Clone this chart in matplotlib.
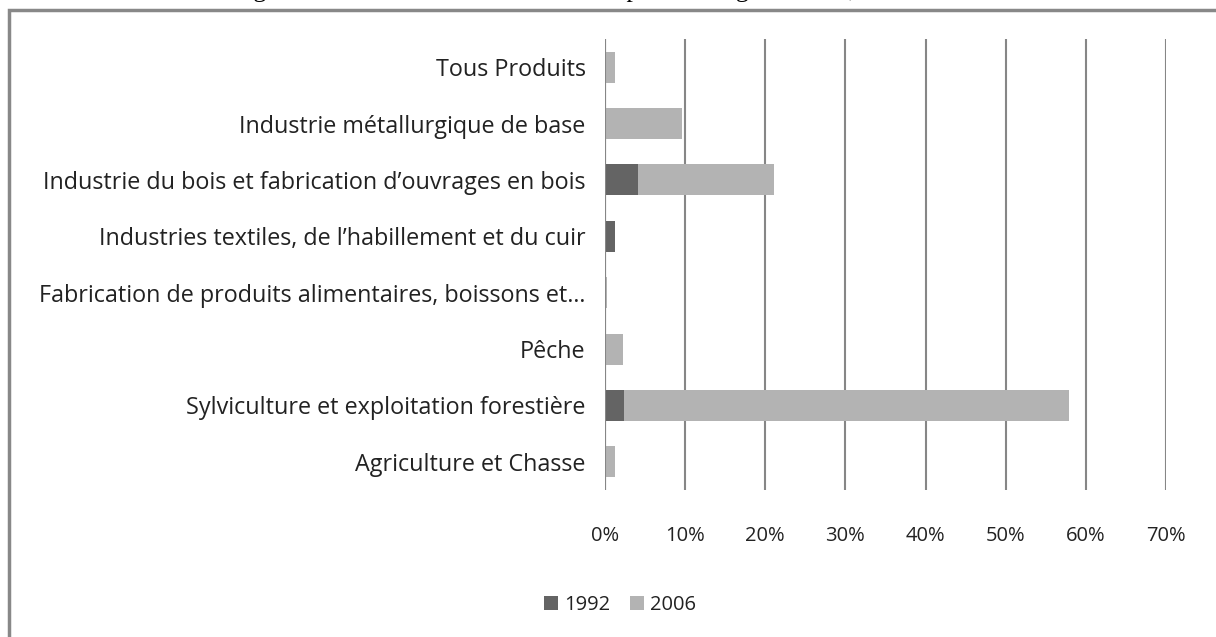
import matplotlib
matplotlib.use("Agg")
import matplotlib.pyplot as plt
from matplotlib.patches import Rectangle

# categories from bottom to top (barh draws the first one at the bottom)
categories = [
    "Agriculture et Chasse",
    "Sylviculture et exploitation forestière",
    "Pêche",
    "Fabrication de produits alimentaires, boissons et…",
    "Industries textiles, de l’habillement et du cuir",
    "Industrie du bois et fabrication d’ouvrages en bois",
    "Industrie métallurgique de base",
    "Tous Produits",
]
share_1992 = [0.0, 2.4, 0.0, 0.0, 1.2, 4.1, 0.0, 0.0]
share_2006 = [1.3, 55.5, 2.3, 0.2, 0.0, 17.0, 9.6, 1.2]
xticks = [0, 10, 20, 30, 40, 50, 60, 70]
title = "Figure 4 : Part de la Chine dans les importations gabonaises, 1992 versus 2006"

W, H = 1216, 637
fig = plt.figure(figsize=(W / 100, H / 100), dpi=100)
fig.patch.set_facecolor("white")

# plot area in pixels: x 605..1166, y 39..490
ax = fig.add_axes([605 / W, 1 - 490 / H, (1166 - 605) / W, (490 - 39) / H])

ypos = range(len(categories))
ax.barh(ypos, share_1992, height=0.55, color="#646464", label="1992", zorder=3)
ax.barh(ypos, share_2006, height=0.55, left=share_1992, color="#b3b3b3",
        label="2006", zorder=3)

ax.set_xlim(0, 70)
ax.set_ylim(-0.5, len(categories) - 0.5)
ax.set_xticks(xticks)
ax.set_xticklabels([f"{t}%" for t in xticks])
ax.set_yticks(list(ypos))
ax.set_yticklabels(categories)

for s in ax.spines.values():
    s.set_visible(False)
ax.axvline(0, color="#868686", lw=1.5, zorder=4)
ax.grid(axis="x", color="#868686", lw=1.5, zorder=0)
ax.tick_params(axis="both", length=0, labelcolor="#222222")
ax.tick_params(axis="x", pad=26, labelsize=14.5)
ax.tick_params(axis="y", pad=14, labelsize=16.8)
for lab in ax.get_xticklabels() + ax.get_yticklabels():
    lab.set_fontfamily("Open Sans")

leg = fig.legend(loc="center", bbox_to_anchor=(620 / W, 1 - 605 / H), ncol=2,
                 frameon=False, prop={"family": "Open Sans", "size": 14.5},
                 handlelength=0.7, handleheight=0.7, handletextpad=0.3,
                 columnspacing=1.0, labelcolor="#222222")

# outer frame, cut at the right and bottom edge
fig.patches.append(Rectangle((8.5 / W, -0.1), 1.2, 1.1 - 9.5 / H,
                             transform=fig.transFigure, fill=False,
                             edgecolor="#888888", lw=2.5))

# caption above, mostly cut off by the top edge
fig.text(638 / W, 1 + 3 / H, title, ha="center", va="baseline",
         family="Liberation Serif", fontsize=18.5, color="black")

fig.savefig("out.png", dpi=100)
